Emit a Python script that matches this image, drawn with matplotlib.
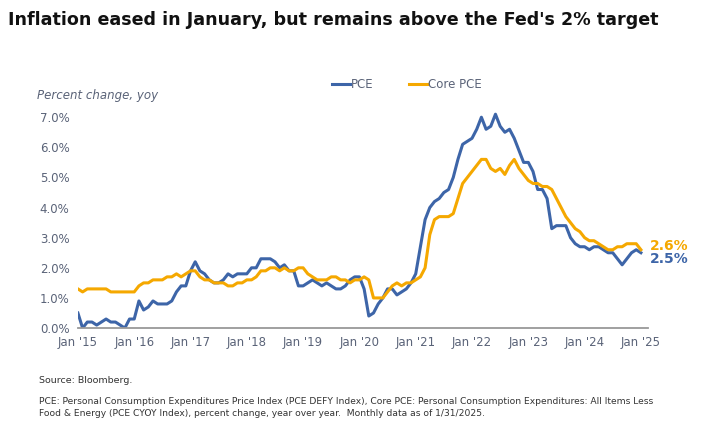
from matplotlib import pyplot as plt
from matplotlib.lines import Line2D
import numpy as np

# monthly yoy % change, Jan 2015 .. Jan 2025
pce = [0.5, 0.0, 0.2, 0.2, 0.1, 0.2, 0.3, 0.2, 0.2, 0.1, 0.0, 0.3,
       0.3, 0.9, 0.6, 0.7, 0.9, 0.8, 0.8, 0.8, 0.9, 1.2, 1.4, 1.4,
       1.9, 2.2, 1.9, 1.8, 1.6, 1.5, 1.5, 1.6, 1.8, 1.7, 1.8, 1.8,
       1.8, 2.0, 2.0, 2.3, 2.3, 2.3, 2.2, 2.0, 2.1, 1.9, 1.9, 1.4,
       1.4, 1.5, 1.6, 1.5, 1.4, 1.5, 1.4, 1.3, 1.3, 1.4, 1.6, 1.7,
       1.7, 1.3, 0.4, 0.5, 0.8, 1.0, 1.3, 1.3, 1.1, 1.2, 1.3, 1.5,
       1.8, 2.7, 3.6, 4.0, 4.2, 4.3, 4.5, 4.6, 5.0, 5.6, 6.1, 6.2,
       6.3, 6.6, 7.0, 6.6, 6.7, 7.1, 6.7, 6.5, 6.6, 6.3, 5.9, 5.5,
       5.5, 5.2, 4.6, 4.6, 4.3, 3.3, 3.4, 3.4, 3.4, 3.0, 2.8, 2.7,
       2.7, 2.6, 2.7, 2.7, 2.6, 2.5, 2.5, 2.3, 2.1, 2.3, 2.5, 2.6,
       2.5]
core = [1.3, 1.2, 1.3, 1.3, 1.3, 1.3, 1.3, 1.2, 1.2, 1.2, 1.2, 1.2,
        1.2, 1.4, 1.5, 1.5, 1.6, 1.6, 1.6, 1.7, 1.7, 1.8, 1.7, 1.8,
        1.9, 1.9, 1.7, 1.6, 1.6, 1.5, 1.5, 1.5, 1.4, 1.4, 1.5, 1.5,
        1.6, 1.6, 1.7, 1.9, 1.9, 2.0, 2.0, 1.9, 2.0, 1.9, 1.9, 2.0,
        2.0, 1.8, 1.7, 1.6, 1.6, 1.6, 1.7, 1.7, 1.6, 1.6, 1.5, 1.6,
        1.6, 1.7, 1.6, 1.0, 1.0, 1.0, 1.2, 1.4, 1.5, 1.4, 1.5, 1.5,
        1.6, 1.7, 2.0, 3.1, 3.6, 3.7, 3.7, 3.7, 3.8, 4.3, 4.8, 5.0,
        5.2, 5.4, 5.6, 5.6, 5.3, 5.2, 5.3, 5.1, 5.4, 5.6, 5.3, 5.1,
        4.9, 4.8, 4.8, 4.7, 4.7, 4.6, 4.3, 4.0, 3.7, 3.5, 3.3, 3.2,
        3.0, 2.9, 2.9, 2.8, 2.7, 2.6, 2.6, 2.7, 2.7, 2.8, 2.8, 2.8,
        2.6]
year_labels = ["Jan '15", "Jan '16", "Jan '17", "Jan '18", "Jan '19", "Jan '20",
               "Jan '21", "Jan '22", "Jan '23", "Jan '24", "Jan '25"]
yticks = [0, 1, 2, 3, 4, 5, 6, 7]

blue = "#3d65a8"
gold = "#f5a800"
grey = "#5a6378"

fig = plt.figure(figsize=(7.02, 4.38), dpi=100)
ax = fig.add_axes([0.111, 0.251, 0.812, 0.502])
x = np.arange(len(pce))
ax.plot(x, pce, color=blue, lw=2.2)
ax.plot(x, core, color=gold, lw=2.2)
ax.set_xlim(0, 121.5)
ax.set_ylim(0, 7.3)
ax.set_xticks(np.arange(0, 121, 12))
ax.set_xticklabels(year_labels)
ax.set_yticks(yticks)
ax.set_yticklabels([f"{v:.1f}%" for v in yticks])
ax.tick_params(length=0, labelsize=8.5, colors=grey, pad=6)
for s in ["top", "right", "left"]:
    ax.spines[s].set_visible(False)
ax.spines["bottom"].set_color("#999999")
ax.spines["bottom"].set_linewidth(1.3)

ax.text(122, core[-1] + 0.12, "2.6%", color=gold, fontsize=10, fontweight="bold", va="center")
ax.text(122, pce[-1] - 0.22, "2.5%", color=blue, fontsize=10, fontweight="bold", va="center")

fig.text(0.052, 0.773, "Percent change, yoy", fontsize=8.5, style="italic", color=grey)
handles = [Line2D([], [], color=blue, lw=2.2), Line2D([], [], color=gold, lw=2.2)]
fig.legend(handles, ["PCE", "Core PCE"], loc="center", bbox_to_anchor=(0.58, 0.806),
           ncol=2, frameon=False, fontsize=8.5, handlelength=1.5, handletextpad=0.1,
           columnspacing=3, labelcolor=grey)

fig.text(0.012, 0.955, "Inflation eased in January, but remains above the Fed's 2% target",
         fontsize=12.6, fontweight="bold", color="#111111", va="center")
fig.text(0.055, 0.125, "Source: Bloomberg.", fontsize=6.8, color="#333333")
fig.text(0.055, 0.05, "PCE: Personal Consumption Expenditures Price Index (PCE DEFY Index), Core PCE: Personal Consumption Expenditures: All Items Less\n"
         "Food & Energy (PCE CYOY Index), percent change, year over year.  Monthly data as of 1/31/2025.",
         fontsize=6.6, color="#333333", linespacing=1.5)

fig.savefig("out.png", dpi=100)
